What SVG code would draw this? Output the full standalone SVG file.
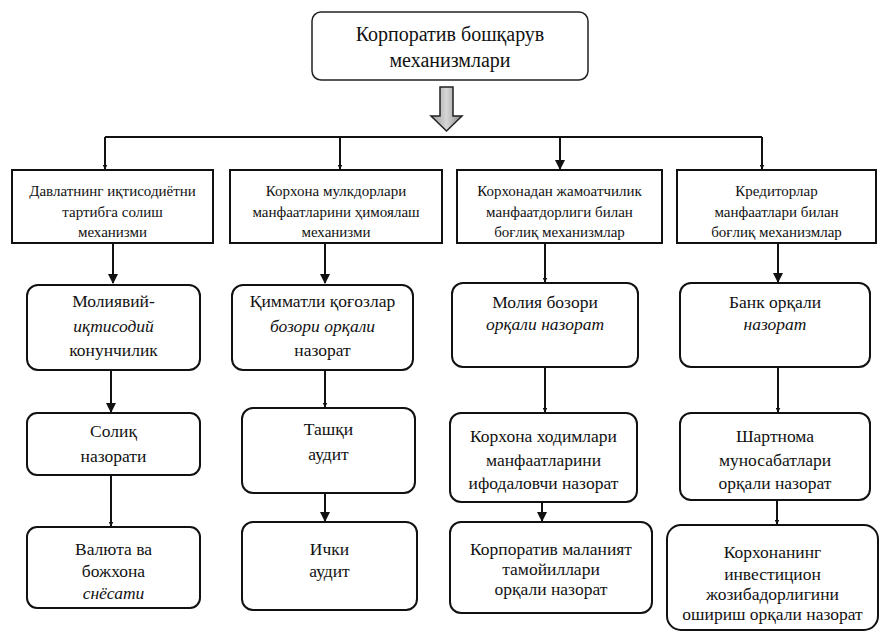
<svg xmlns="http://www.w3.org/2000/svg" width="881" height="634" viewBox="0 0 881 634" font-family="Liberation Serif, Tinos, Times New Roman, DejaVu Serif, serif">
<defs>
<style>
.bg{fill:#fff}
.box{fill:#fff;stroke:#111;stroke-width:2}
.top{fill:#fff;stroke:#222;stroke-width:1.5}
.conn{fill:none;stroke:#111;stroke-width:2}
text{fill:#111;text-anchor:middle}
.t1{font-size:15px}
.t2{font-size:17.5px}
.t0{font-size:20px}
.it{font-style:italic}
</style>
<marker id="ah" viewBox="0 0 10 10" refX="9" refY="5" markerWidth="5" markerHeight="5" orient="auto" markerUnits="userSpaceOnUse">
<path d="M0,0 L10,5 L0,10 z" fill="#111"/>
</marker>
<marker id="ahb" viewBox="0 0 10 10" refX="9" refY="5" markerWidth="10" markerHeight="10" orient="auto" markerUnits="userSpaceOnUse">
<path d="M0,0 L10,5 L0,10 z" fill="#111"/>
</marker>
<linearGradient id="grayg" x1="0" y1="0" x2="1" y2="0">
<stop offset="0" stop-color="#9a9a9a"/>
<stop offset="0.5" stop-color="#d6d6d6"/>
<stop offset="1" stop-color="#8a8a8a"/>
</linearGradient>
</defs>
<rect class="bg" x="0" y="0" width="881" height="634"/>

<g id="connectors">
<path class="conn" d="M105,137 H762"/>
<path class="conn" d="M105,137 V169" marker-end="url(#ah)"/>
<path class="conn" d="M340,137 V169" marker-end="url(#ah)"/>
<path class="conn" d="M560,137 V169" marker-end="url(#ahb)"/>
<path class="conn" d="M762,137 V169" marker-end="url(#ah)"/>

<path class="conn" d="M113,243 V283" marker-end="url(#ahb)"/>
<path class="conn" d="M325,243 V283" marker-end="url(#ahb)"/>
<path class="conn" d="M545,243 V282" marker-end="url(#ah)"/>
<path class="conn" d="M778,243 V282" marker-end="url(#ahb)"/>

<path class="conn" d="M111,370 V412" marker-end="url(#ahb)"/>
<path class="conn" d="M325,370 V407" marker-end="url(#ah)"/>
<path class="conn" d="M545,367 V412" marker-end="url(#ah)"/>
<path class="conn" d="M778,367 V412" marker-end="url(#ah)"/>

<path class="conn" d="M111,475 V526" marker-end="url(#ah)"/>
<path class="conn" d="M325,493 V521" marker-end="url(#ahb)"/>
<path class="conn" d="M542,502 V521" marker-end="url(#ahb)"/>
<path class="conn" d="M777,500 V524" marker-end="url(#ah)"/>
</g>

<g id="top">
<rect class="top" x="312" y="12" width="276" height="68" rx="9"/>
<text class="t0" x="450" y="41">Корпоратив бошқарув</text>
<text class="t0" x="450" y="67">механизмлари</text>
</g>

<g id="bigarrow">
<path d="M440,87 H453 V116 H462 L446.5,131 L431,116 H440 Z" fill="url(#grayg)" stroke="#222" stroke-width="1.5"/>
</g>

<g id="n1a">
<rect class="box" x="12" y="170" width="201" height="73"/>
<text class="t1" x="112.5" y="196">Давлатнинг иқтисодиётни</text>
<text class="t1" x="112.5" y="217">тартибга солиш</text>
<text class="t1" x="112.5" y="237">механизми</text>
</g>
<g id="n1b">
<rect class="box" x="230" y="170" width="212" height="73"/>
<text class="t1" x="336" y="196">Корхона мулкдорлари</text>
<text class="t1" x="336" y="217">манфаатларини ҳимоялаш</text>
<text class="t1" x="336" y="237">механизми</text>
</g>
<g id="n1c">
<rect class="box" x="457" y="170" width="205" height="73"/>
<text class="t1" x="559.5" y="196">Корхонадан жамоатчилик</text>
<text class="t1" x="559.5" y="217">манфаатдорлиги билан</text>
<text class="t1" x="559.5" y="237">боғлиқ механизмлар</text>
</g>
<g id="n1d">
<rect class="box" x="677" y="170" width="199" height="73"/>
<text class="t1" x="776.5" y="196">Кредиторлар</text>
<text class="t1" x="776.5" y="217">манфаатлари билан</text>
<text class="t1" x="776.5" y="237">боғлиқ механизмлар</text>
</g>

<g id="n2a">
<rect class="box" x="27" y="285" width="173" height="85" rx="11"/>
<text class="t2" x="113.5" y="307">Молиявий-</text>
<text class="t2 it" x="113.5" y="332">иқтисодий</text>
<text class="t2" x="113.5" y="356">конунчилик</text>
</g>
<g id="n2b">
<rect class="box" x="232" y="285" width="181" height="85" rx="11"/>
<text class="t2" x="322.5" y="307">Қимматли қоғозлар</text>
<text class="t2 it" x="322.5" y="332">бозори орқали</text>
<text class="t2" x="322.5" y="356">назорат</text>
</g>
<g id="n2c">
<rect class="box" x="452" y="283" width="186" height="84" rx="11"/>
<text class="t2" x="545" y="308">Молия бозори</text>
<text class="t2 it" x="545" y="330">орқали назорат</text>
</g>
<g id="n2d">
<rect class="box" x="680" y="283" width="190" height="84" rx="11"/>
<text class="t2" x="775" y="308">Банк орқали</text>
<text class="t2 it" x="775" y="330">назорат</text>
</g>

<g id="n3a">
<rect class="box" x="27" y="413" width="173" height="62" rx="10"/>
<text class="t2" x="113.5" y="437">Солиқ</text>
<text class="t2" x="113.5" y="462">назорати</text>
</g>
<g id="n3b">
<rect class="box" x="242" y="408" width="173" height="85" rx="11"/>
<text class="t2" x="328.5" y="435">Ташқи</text>
<text class="t2" x="328.5" y="460">аудит</text>
</g>
<g id="n3c">
<rect class="box" x="450" y="413" width="187" height="89" rx="11"/>
<text class="t2" x="543.5" y="442">Корхона ходимлари</text>
<text class="t2" x="543.5" y="466">манфаатларини</text>
<text class="t2" x="543.5" y="489">ифодаловчи назорат</text>
</g>
<g id="n3d">
<rect class="box" x="680" y="413" width="190" height="87" rx="11"/>
<text class="t2" x="775" y="442">Шартнома</text>
<text class="t2" x="775" y="466">муносабатлари</text>
<text class="t2" x="775" y="489">орқали назорат</text>
</g>

<g id="n4a">
<rect class="box" x="27" y="527" width="173" height="81" rx="10"/>
<text class="t2" x="113.5" y="555">Валюта ва</text>
<text class="t2" x="113.5" y="577">божхона</text>
<text class="t2 it" x="113.5" y="599">снёсати</text>
</g>
<g id="n4b">
<rect class="box" x="242" y="522" width="175" height="88" rx="11"/>
<text class="t2" x="329.5" y="555">Ички</text>
<text class="t2" x="329.5" y="577">аудит</text>
</g>
<g id="n4c">
<rect class="box" x="450" y="522" width="202" height="91" rx="11"/>
<text class="t2" x="551" y="555">Корпоратив маланият</text>
<text class="t2" x="551" y="575">тамойиллари</text>
<text class="t2" x="551" y="595">орқали назорат</text>
</g>
<g id="n4d">
<rect class="box" x="667" y="525" width="211" height="105" rx="14"/>
<text class="t2" x="772.5" y="558">Корхонанинг</text>
<text class="t2" x="772.5" y="580">инвестицион</text>
<text class="t2" x="772.5" y="600">жозибадорлигини</text>
<text class="t2" x="772.5" y="620">ошириш орқали назорат</text>
</g>
</svg>
